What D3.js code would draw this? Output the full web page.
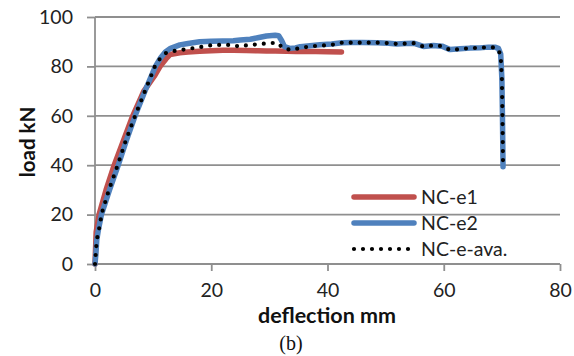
<!DOCTYPE html>
<html><head><meta charset="utf-8">
<script src="https://cdn.jsdelivr.net/npm/d3@7"></script>
<style>body{margin:0;background:#fff}svg{display:block}</style>
</head><body>
<svg id="c" width="574" height="356"></svg>
<script>
const e1Defl = [0,0.2,0.7,1.9,3.3,4.9,6.5,8.4,10.2,11.2,12.2,12.9,14.6,16,18,20,22,23.8,26,28,29.5,31,33,34.6,36,38,40,42.4];
const e1Load = [0,13,20,30,40,50,60,70,76,80,83,84.8,85.5,85.8,86.1,86.3,86.5,86.5,86.4,86.3,86.2,86.2,86.1,86,86,86,85.9,85.8];

const e2Defl = [0,0.15,0.3,0.6,1.1,2.5,4.0,5.4,6.9,8.6,10.4,11.3,12.1,13,14.6,16,18,20,22,23.8,25,26.7,28,29.5,31,31.6,32.1,32.6,33.5,34.5,35.3,37,38.7,40.7,42.5,44,46,48.6,50.5,51.9,53.5,54.8,56.5,58.2,59.7,61.1,62.8,64.5,66.2,67.7,68.8,69.4,69.8,70.0,70.1,70.2];
const e2Load = [0,4,9.7,14,20,30,40,50,60,70,80,83.5,85.8,87.3,88.7,89.3,90,90.2,90.3,90.4,90.7,91,91.6,92.3,92.6,92.4,90.5,88,87.3,87.5,88,88.4,88.8,89.1,89.6,89.7,89.7,89.6,89.4,89.1,89.3,89.4,88.1,88.5,88.2,86.8,87.1,87.4,87.5,87.8,87.8,87.3,85,75,60,39.4];

const avaDefl = [0,0.3,0.9,1.1,2.4,3.9,5.3,6.9,8.6,10.3,11.2,12.1,12.9,14.6,16.6,18.6,20.4,23.2,25,26.4,27.8,29.5,31.3,32.4,33.9,35,37,38.7,40.7,42.5,44,46,48.6,50.5,51.9,53.5,54.8,56.5,58.2,59.7,61.1,62.8,64.5,66.2,67.7,68.8,69.4,69.8,70.0,70.1,70.2];
const avaLoad = [0,9.7,16.5,20,30,40,50,60,70,80,83.2,85.3,86,86.6,87.3,88,88.7,88.7,88,88.7,88.9,89.3,89.6,87.3,86.6,87.3,88.1,88.4,88.7,89.6,89.6,89.6,89.6,89.4,89.1,89.2,89.4,88.0,88.5,88.2,86.6,87.0,87.4,87.5,87.8,87.6,86.9,84,75,60,39.4];

const seriesNames = ["NC-e1","NC-e2","NC-e-ava."];
const xTicks = [0,20,40,60,80];
const yTicks = [0,20,40,60,80,100];
const xTitle = "deflection mm";
const yTitle = "load kN";
const caption = "(b)";

const svg = d3.select("#c");
const x = d3.scaleLinear().domain([0,80]).range([95,560]);
const y = d3.scaleLinear().domain([0,100]).range([264,17]);
const font = "Lato, 'Open Sans', sans-serif";
const grid = "#8f8f8f";

// gridlines
svg.append("g").selectAll("line").data(yTicks.filter(d=>d>0)).join("line")
  .attr("x1",x(0)).attr("x2",x(80)).attr("y1",d=>y(d)).attr("y2",d=>y(d))
  .attr("stroke",grid).attr("stroke-width",1.8);

// axes
const yAxis = d3.axisLeft(y).tickValues(yTicks).tickSize(8).tickPadding(14).tickFormat(d3.format("d"));
const gy = svg.append("g").attr("transform",`translate(${x(0)},0)`).call(yAxis);
const xAxis = d3.axisBottom(x).tickValues(xTicks).tickSize(7).tickPadding(12.5).tickFormat(d3.format("d"));
const gx = svg.append("g").attr("transform",`translate(0,${y(0)})`).call(xAxis);
[gx,gy].forEach(g=>{
  g.select(".domain").attr("stroke",grid).attr("stroke-width",1.8);
  g.selectAll(".tick line").attr("stroke",grid).attr("stroke-width",1.8);
  g.selectAll(".tick text").attr("fill","#222").style("font-family",font).style("font-size","19.5px");
});
gx.select(".domain").attr("d",`M${x(0)},0H${x(80)}`);
gy.select(".domain").attr("d",`M0,${y(100)}V${y(0)}`);

const line = d3.line().x(d=>x(d[0])).y(d=>y(d[1]));
const z = (a,b)=>a.map((v,i)=>[v,b[i]]);

svg.append("path").datum(z(e1Defl,e1Load)).attr("d",line)
  .attr("fill","none").attr("stroke","#c0504d").attr("stroke-width",5.5).attr("stroke-linejoin","round").attr("stroke-linecap","round");
svg.append("path").datum(z(e2Defl,e2Load)).attr("d",line)
  .attr("fill","none").attr("stroke","#4f81bd").attr("stroke-width",5.5).attr("stroke-linejoin","round").attr("stroke-linecap","round");
svg.append("path").datum(z(avaDefl,avaLoad)).attr("d",line)
  .attr("fill","none").attr("stroke","#000").attr("stroke-width",4.2).attr("stroke-linecap","round").attr("stroke-dasharray","0 9");

// legend
const leg = svg.append("g");
const legY = [197,223,249];
const legStyles = [
  {c:"#c0504d",w:5.5,da:null},
  {c:"#4f81bd",w:5.5,da:null},
  {c:"#000",w:4.2,da:"0 9"}];
seriesNames.forEach((n,i)=>{
  leg.append("line").attr("x1",354).attr("x2",i===2?409:414).attr("y1",legY[i]).attr("y2",legY[i])
    .attr("stroke",legStyles[i].c).attr("stroke-width",legStyles[i].w).attr("stroke-linecap","round")
    .attr("stroke-dasharray",legStyles[i].da);
  leg.append("text").attr("x",421).attr("y",legY[i]+7).text(n)
    .style("font-family",font).style("font-size","19.5px").attr("fill","#222");
});

svg.append("text").attr("x",327).attr("y",323).attr("text-anchor","middle").text(xTitle)
  .style("font-family",font).style("font-size","21.5px").style("font-weight","bold").attr("fill","#111");
svg.append("text").attr("transform","translate(35,142) rotate(-90)").attr("text-anchor","middle").text(yTitle)
  .style("font-family",font).style("font-size","20.5px").style("font-weight","bold").attr("fill","#111");
svg.append("text").attr("x",291).attr("y",350).attr("text-anchor","middle").text(caption)
  .style("font-family","'Liberation Serif', 'Times New Roman', serif").style("font-size","20px").attr("fill","#111");
</script>
</body></html>
